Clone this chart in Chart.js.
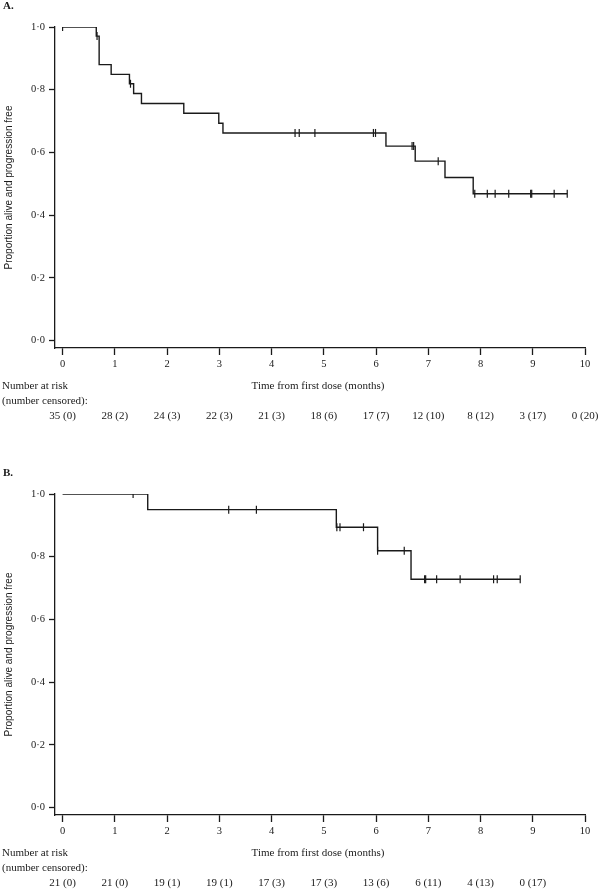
<!DOCTYPE html>
<html>
<head>
<meta charset="utf-8">
<script src="https://cdn.jsdelivr.net/npm/chart.js@4.4.1/dist/chart.umd.min.js"></script>
<style>
    html, body { margin: 0; padding: 0; background: #fff; }
    body { width: 600px; height: 889px; position: relative; overflow: hidden; }
    .panel { position: absolute; left: 0; width: 600px; }
    #panelA { top: 0; height: 445px; }
    #panelB { top: 467px; height: 422px; }
</style>
</head>
<body>
<div class="panel" id="panelA"><canvas id="chartA"></canvas></div>
<div class="panel" id="panelB"><canvas id="chartB"></canvas></div>
<script>
const xTicks = [0, 1, 2, 3, 4, 5, 6, 7, 8, 9, 10];
const yTicks = [0, 0.2, 0.4, 0.6, 0.8, 1.0];

// panel A: step times and survival after each step
const aTimes = [0, 0.645, 0.70, 0.93, 1.28, 1.36, 1.51, 2.32, 2.99, 3.07, 6.19, 6.75, 7.32, 7.86, 9.66];
const aSurv = [1.0, 0.971, 0.880, 0.849, 0.819, 0.788, 0.756, 0.725, 0.693, 0.662, 0.620, 0.572, 0.520, 0.468, 0.468];
const aCensored = [0, 0.66, 1.30, 4.45, 4.53, 4.83, 5.95, 5.99, 6.69, 6.72, 7.19, 7.89, 8.13, 8.28, 8.54, 8.96, 8.98, 9.41, 9.66];
const aAtRisk = ['35 (0)', '28 (2)', '24 (3)', '22 (3)', '21 (3)', '18 (6)', '17 (7)', '12 (10)', '8 (12)', '3 (17)', '0 (20)'];

// panel B
const bTimes = [0, 1.63, 5.24, 6.03, 6.67, 8.76];
const bSurv = [1.0, 0.950, 0.894, 0.819, 0.728, 0.728];
const bCensored = [1.35, 3.18, 3.71, 5.25, 5.31, 5.76, 6.03, 6.54, 6.93, 6.95, 7.16, 7.61, 8.25, 8.32, 8.76];
const bAtRisk = ['21 (0)', '21 (0)', '19 (1)', '19 (1)', '17 (3)', '17 (3)', '13 (6)', '6 (11)', '4 (13)', '0 (17)'];

const ink = '#1a1a1a';
const serif = "'Liberation Serif', 'Times New Roman', serif";

function survivalAt(times, surv, t) {
    let v = surv[0];
    for (let i = 0; i < times.length; i++) {
        if (times[i] <= t) v = surv[i];
    }
    return v;
}

const riskTablePlugin = {
    id: 'riskTable',
    afterDraw(chart) {
        const opts = chart.options.plugins.riskTable;
        const ctx = chart.ctx;
        const x = chart.scales.x;
        ctx.save();
        ctx.fillStyle = ink;
        ctx.textBaseline = 'middle';

        ctx.font = 'bold 11px ' + serif;
        ctx.textAlign = 'left';
        ctx.fillText(opts.label, 3, 6);

        ctx.font = '11px ' + serif;
        ctx.fillText('Number at risk', 2, 386);
        ctx.fillText('(number censored):', 2, 401);

        ctx.textAlign = 'center';
        ctx.fillText('Time from first dose (months)', (chart.chartArea.left + chart.chartArea.right) / 2 - 2, 386);

        opts.counts.forEach((txt, i) => {
            ctx.fillText(txt, x.getPixelForValue(xTicks[i]), 416);
        });
        ctx.restore();
    }
};

function makeChart(canvasId, label, times, surv, censored, counts) {
    const ctx = document.getElementById(canvasId);
    return new Chart(ctx, {
        type: 'line',
        data: {
            datasets: [
                {
                    data: times.map((t, i) => ({ x: t, y: surv[i] })),
                    stepped: 'before',
                    borderColor: ink,
                    borderWidth: 1.4,
                    pointRadius: 0,
                    fill: false
                },
                {
                    data: censored.map(t => ({ x: t, y: survivalAt(times, surv, t) })),
                    showLine: false,
                    pointStyle: 'line',
                    rotation: 90,
                    pointRadius: 4,
                    pointBorderWidth: 1.2,
                    pointBorderColor: ink,
                    borderColor: ink
                }
            ]
        },
        options: {
            responsive: true,
            maintainAspectRatio: false,
            animation: false,
            layout: { padding: { top: 27, right: 15, left: 0, bottom: 0 } },
            plugins: {
                legend: { display: false },
                tooltip: { enabled: false },
                riskTable: { label: label, counts: counts }
            },
            scales: {
                x: {
                    type: 'linear',
                    min: -0.145,
                    max: 10,
                    afterBuildTicks: s => { s.ticks = xTicks.map(v => ({ value: v })); },
                    afterFit: s => { s.height = s.chart.height - 348; },
                    ticks: {
                        color: ink,
                        font: { family: serif, size: 10.5 },
                        padding: 3,
                        maxRotation: 0,
                        autoSkip: false,
                        callback: v => String(v)
                    },
                    grid: {
                        drawOnChartArea: false,
                        drawTicks: true,
                        tickLength: 7,
                        tickColor: ink,
                        tickWidth: 1.3
                    },
                    border: { display: true, color: ink, width: 1.3 }
                },
                y: {
                    type: 'linear',
                    min: -0.024,
                    max: 1.0,
                    afterBuildTicks: s => { s.ticks = yTicks.map(v => ({ value: v })); },
                    afterFit: s => { s.width = 55; },
                    ticks: {
                        color: ink,
                        font: { family: serif, size: 10.5 },
                        padding: 4,
                        callback: v => v.toFixed(1).replace('.', '\u00b7')
                    },
                    grid: {
                        drawOnChartArea: false,
                        drawTicks: true,
                        tickLength: 6,
                        tickColor: ink,
                        tickWidth: 1.3
                    },
                    border: { display: true, color: ink, width: 1.3 },
                    title: {
                        display: true,
                        text: 'Proportion alive and progression free',
                        color: ink,
                        font: { family: "'Liberation Sans', Arial, sans-serif", size: 10 },
                        padding: { top: 3, bottom: 0 }
                    }
                }
            }
        },
        plugins: [riskTablePlugin]
    });
}

makeChart('chartA', 'A.', aTimes, aSurv, aCensored, aAtRisk);
makeChart('chartB', 'B.', bTimes, bSurv, bCensored, bAtRisk);
</script>
</body>
</html>
